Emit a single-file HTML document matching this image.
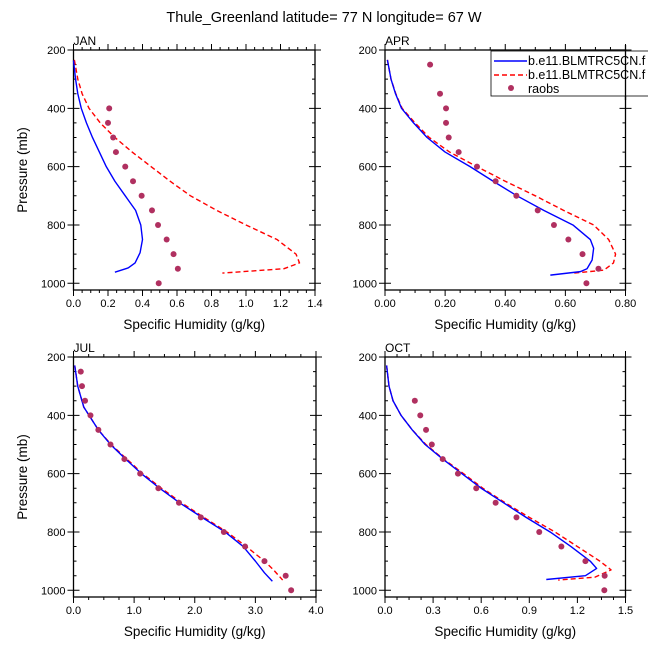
<!DOCTYPE html>
<html><head><meta charset="utf-8"><style>
body{margin:0;background:#fff}
svg{display:block;font-family:"Liberation Sans",sans-serif}
</style></head><body>
<svg id="c" width="648" height="649" viewBox="0 0 648 649" xmlns="http://www.w3.org/2000/svg">
<text x="324" y="22" text-anchor="middle" font-size="14.5">Thule_Greenland  latitude= 77 N longitude= 67 W</text>
</svg>
<script>
const months = ["JAN","APR","JUL","OCT"];
const xMax = [1.4, 0.8, 4.0, 1.5];
const xStep = [0.2, 0.2, 1.0, 0.3];
const xTickLabels = [["0.0","0.2","0.4","0.6","0.8","1.0","1.2","1.4"],["0.00","0.20","0.40","0.60","0.80"],["0.0","1.0","2.0","3.0","4.0"],["0.0","0.3","0.6","0.9","1.2","1.5"]];
const yTicks = [200,400,600,800,1000];
const modelP_jan = [236,300,350,400,450,500,550,600,650,700,750,800,850,895,930,947,962];
const blue_jan = [0.0,0.012,0.025,0.045,0.075,0.11,0.15,0.19,0.24,0.3,0.36,0.39,0.40,0.386,0.357,0.318,0.24];
const redP_jan = [234,300,350,400,450,500,550,600,650,700,750,800,850,900,930,950,965];
const red_jan = [0.005,0.025,0.05,0.09,0.155,0.24,0.34,0.45,0.56,0.678,0.83,1.0,1.18,1.29,1.31,1.22,0.863];
const modelP_apr = [234,300,350,400,450,500,550,600,650,700,750,800,850,880,920,950,960,972];
const blue_apr = [0.008,0.02,0.035,0.055,0.095,0.14,0.2,0.283,0.36,0.439,0.528,0.625,0.683,0.694,0.689,0.672,0.65,0.55];
const redP_apr = [234,300,350,400,450,500,550,600,650,700,750,800,850,900,930,955,965];
const red_apr = [0.008,0.02,0.036,0.057,0.1,0.147,0.215,0.306,0.4,0.50,0.594,0.694,0.744,0.767,0.76,0.728,0.628];
const modelP_jul = [229,300,372,450,500,550,600,650,700,750,800,850,900,940,969];
const blue_jul = [0.02,0.07,0.17,0.41,0.61,0.86,1.12,1.42,1.75,2.12,2.5,2.8,3.0,3.15,3.28];
const redP_jul = [229,300,372,450,500,550,600,650,700,750,800,850,900,930,965];
const red_jul = [0.02,0.07,0.17,0.41,0.62,0.88,1.14,1.45,1.78,2.15,2.53,2.85,3.15,3.3,3.45];
const modelP_oct = [229,300,350,400,450,500,550,600,650,700,750,800,850,900,925,950,963];
const blue_oct = [0.01,0.025,0.05,0.1,0.17,0.25,0.36,0.48,0.6,0.74,0.88,1.03,1.16,1.28,1.32,1.25,1.006];
const redP_oct = [229,300,350,400,450,500,550,600,650,700,750,800,850,900,930,955,965];
const red_oct = [0.01,0.025,0.05,0.1,0.17,0.255,0.365,0.49,0.61,0.75,0.9,1.06,1.2,1.34,1.41,1.31,1.08];
const obsP_jan = [400,450,500,550,600,650,700,750,800,850,900,950,1000];
const obs_jan = [0.207,0.2,0.23,0.246,0.3,0.345,0.395,0.455,0.49,0.54,0.58,0.605,0.494];
const obsP_apr = [250,350,400,450,500,550,600,650,700,750,800,850,900,950,1000];
const obs_apr = [0.15,0.183,0.203,0.203,0.212,0.245,0.306,0.368,0.437,0.508,0.562,0.61,0.657,0.71,0.67];
const obsP_jul = [250,300,350,400,450,500,550,600,650,700,750,800,850,900,950,1000];
const obs_jul = [0.12,0.14,0.19,0.28,0.41,0.61,0.84,1.1,1.4,1.74,2.1,2.48,2.83,3.15,3.5,3.59];
const obsP_oct = [350,400,450,500,550,600,650,700,750,800,850,900,950,1000];
const obs_oct = [0.186,0.22,0.256,0.292,0.36,0.455,0.569,0.69,0.82,0.962,1.10,1.25,1.37,1.368];

const blues=[blue_jan,blue_apr,blue_jul,blue_oct], blueP=[modelP_jan,modelP_apr,modelP_jul,modelP_oct];
const reds=[red_jan,red_apr,red_jul,red_oct], redP=[redP_jan,redP_apr,redP_jul,redP_oct];
const obs=[obs_jan,obs_apr,obs_jul,obs_oct], obsP=[obsP_jan,obsP_apr,obsP_jul,obsP_oct];

const svg=document.getElementById('c');
const NS='http://www.w3.org/2000/svg';
function mk(t,a,p){const e=document.createElementNS(NS,t);for(const k in a)e.setAttribute(k,a[k]);(p||svg).appendChild(e);return e;}
const boxes=[[73.5,50,315,290],[385,50,625.5,290],[73.5,357,316,597],[385,357,625.5,597]];
const pMin=200,pMax=1023;
boxes.forEach((b,i)=>{
  const [x0,y0,x1,y1]=b;
  const g=mk('g',{});
  
  
  const X=v=>x0+v/xMax[i]*(x1-x0);
  const Y=p=>y0+(p-pMin)/(pMax-pMin)*(y1-y0);
  const r=mk('rect',{x:x0,y:y0,width:x1-x0,height:y1-y0,fill:'none',stroke:'#000','stroke-width':1.3},g);
  
  
  let d='';
  const nMaj=Math.round(xMax[i]/xStep[i]);
  for(let k=0;k<=nMaj*4;k++){const x=x0+k/(nMaj*4)*(x1-x0);const L=k%4==0?6:3;d+=`M${x},${y0}v${-L}M${x},${y1}v${L}`;}
  for(let p=200;p<=1000;p+=50){const y=Y(p);if(p%200==0)d+=`M${x0-6},${y}h12M${x1-6},${y}h12`;else d+=`M${x0},${y}h3M${x1},${y}h-3`;}
  const tk=mk('path',{d:d,stroke:'#000','stroke-width':1,fill:'none'},g);
  
  
  xTickLabels[i].forEach((t,k)=>{
    const e=mk('text',{x:X(k*xStep[i]),y:y1+17,'text-anchor':'middle','font-size':11},g);e.textContent=t;
    
    
  });
  yTicks.forEach(p=>{
    const e=mk('text',{x:x0-8,y:Y(p)+4,'text-anchor':'end','font-size':11},g);e.textContent=p;
    
    
  });
  const xt=mk('text',{x:(x0+x1)/2,y:y1+39,'text-anchor':'middle','font-size':13.5},g);xt.textContent='Specific Humidity (g/kg)';
  
  
  if(i%2==0){const yt=mk('text',{x:0,y:0,'text-anchor':'middle','font-size':13.5,transform:`translate(27,${(y0+y1)/2}) rotate(-90)`},g);yt.textContent='Pressure (mb)';
    
    }
  const ml=mk('text',{x:x0,y:y0-5,'font-size':12},g);ml.textContent=months[i];
  
  
  const rp=reds[i].map((v,k)=>X(v)+','+Y(redP[i][k])).join(' ');
  const rl=mk('polyline',{points:rp,fill:'none',stroke:'#f00','stroke-width':1.4,'stroke-dasharray':'5,3','stroke-linejoin':'round'},g);
  
  
  const bp=blues[i].map((v,k)=>X(v)+','+Y(blueP[i][k])).join(' ');
  const bl=mk('polyline',{points:bp,fill:'none',stroke:'#0000ff','stroke-width':1.4,'stroke-linejoin':'round'},g);
  
  
  obs[i].forEach((v,k)=>{
    const c=mk('circle',{cx:X(v),cy:Y(obsP[i][k]),r:3,fill:'#b03060'},g);
    
    
  });
});
const lg=mk('g',{});


mk('rect',{x:491,y:51,width:170,height:45,fill:'#fff',stroke:'#000','stroke-width':0.8},lg);
const l1=mk('line',{x1:494,y1:61,x2:527,y2:61,stroke:'#0000ff','stroke-width':1.4},lg);


const l2=mk('line',{x1:494,y1:75,x2:527,y2:75,stroke:'#f00','stroke-width':1.4,'stroke-dasharray':'5,3'},lg);


const l3=mk('circle',{cx:511,cy:88,r:3,fill:'#b03060'},lg);


[['b.e11.BLMTRC5CN.f',65],['b.e11.BLMTRC5CN.f',79],['raobs',93]].forEach(a=>{
  const t=mk('text',{x:528,y:a[1],'font-size':12.5},lg);t.textContent=a[0];
  
  
});
mk('line',{x1:625.5,y1:45,x2:625.5,y2:100,stroke:'#000','stroke-width':1.3},lg);
</script>
</body></html>
